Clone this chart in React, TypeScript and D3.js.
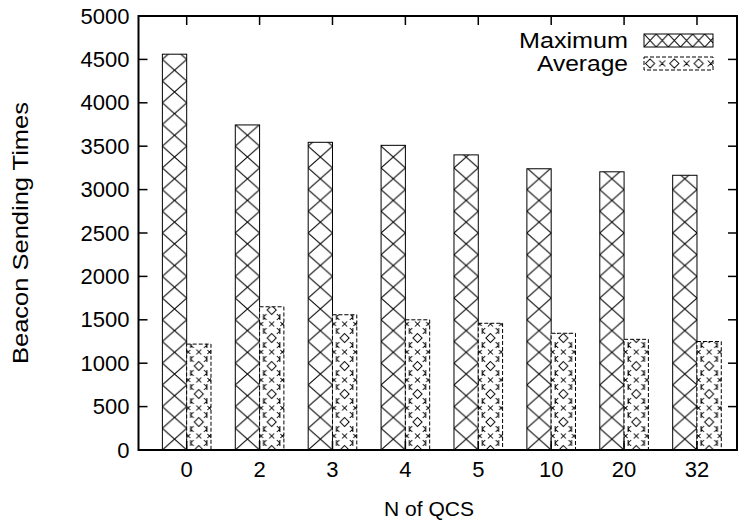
import React from "react";
import * as d3 from "d3";

// Categories and series values
const categories = ["0", "2", "3", "4", "5", "10", "20", "32"];
const maximumValues = [4560, 3745, 3545, 3510, 3400, 3240, 3205, 3165];
const averageValues = [1220, 1650, 1558, 1500, 1460, 1345, 1275, 1250];
const yTicks = [0, 500, 1000, 1500, 2000, 2500, 3000, 3500, 4000, 4500, 5000];
const seriesNames = ["Maximum", "Average"];

const WIDTH = 738;
const HEIGHT = 529;
const LEFT = 138.5;
const RIGHT = 737;
const TOP = 16;
const BOTTOM = 450;
const FONT = "'Liberation Sans', Arial, Helvetica, sans-serif";
const FONT_SIZE = 22;
const TICK = 9;

export default function App() {
  // cluster index -> pixel; each bar is one third of a cluster unit
  const x = d3.scaleLinear().domain([-0.661, 7.549]).range([LEFT, RIGHT]);
  const y = d3.scaleLinear().domain([0, 5000]).range([BOTTOM, TOP]);
  const barW = x(1 / 3) - x(0);
  const hatchH = 21.7;
  const avgH = 28;

  const maxPatternX = x(0) - barW;
  const avgPatternX = x(0);

  // pieces of the "Average" fill tile
  const diamond = (cx: number, cy: number, r: number) =>
    `M${cx},${cy - r}L${cx + r},${cy}L${cx},${cy + r}L${cx - r},${cy}Z`;
  const cross = (cx: number, cy: number, r: number) =>
    `M${cx - r},${cy - r}L${cx + r},${cy + r}M${cx + r},${cy - r}L${cx - r},${cy + r}`;
  const tee = (cx: number, cy: number, dir: number) =>
    `M${cx},${cy - 3}L${cx},${cy + 3}M${cx},${cy}L${cx + dir * 3},${cy - 3}M${cx},${cy}L${cx + dir * 3},${cy + 3}`;
  const avgTile = [
    diamond(barW / 2, 0, 4.5),
    diamond(barW / 2, avgH, 4.5),
    cross(barW / 2, avgH / 2, 2.5),
    tee(4, avgH / 4, 1),
    tee(barW - 4, avgH / 4, -1),
    tee(4, (3 * avgH) / 4, 1),
    tee(barW - 4, (3 * avgH) / 4, -1),
    cross(1.5, avgH / 2, 2),
    cross(barW - 1.5, avgH / 2, 2),
  ].join("");
  const maxTile = `M0,0L${barW},${hatchH}M${barW},0L0,${hatchH}`;

  const legendX0 = 644;
  const legendX1 = 713;
  const legendRows = [40.5, 63.5];
  const legendH = 13;
  const legendTextLen = [109, 91];

  return (
    <svg
      width={WIDTH}
      height={HEIGHT}
      style={{ position: "absolute", left: 0, top: 0, background: "#fff" }}
      fontFamily={FONT}
      fontSize={FONT_SIZE}
    >
      <defs>
        <pattern id="fill-max" patternUnits="userSpaceOnUse" x={maxPatternX} y={BOTTOM} width={barW} height={hatchH}>
          <rect width={barW} height={hatchH} fill="#fff" />
          <path d={maxTile} stroke="#000" strokeWidth={1} fill="none" />
        </pattern>
        <pattern id="fill-avg" patternUnits="userSpaceOnUse" x={avgPatternX} y={BOTTOM} width={barW} height={avgH}>
          <rect width={barW} height={avgH} fill="#fff" />
          <path d={avgTile} stroke="#000" strokeWidth={1} fill="none" />
        </pattern>
        <pattern id="legend-max" patternUnits="userSpaceOnUse" x={legendX0} y={legendRows[0] - legendH / 2} width={barW} height={legendH}>
          <rect width={barW} height={legendH} fill="#fff" />
          <path d={`M0,0L${barW / 2},${legendH}M${barW / 2},0L0,${legendH}M${barW / 2},0L${barW},${legendH}M${barW},0L${barW / 2},${legendH}`} stroke="#000" strokeWidth={1} fill="none" />
        </pattern>
        <pattern id="legend-avg" patternUnits="userSpaceOnUse" x={legendX0} y={legendRows[1] - legendH / 2} width={barW} height={legendH}>
          <rect width={barW} height={legendH} fill="#fff" />
          <path d={[diamond(barW / 4, legendH / 2, 4.5), cross((3 * barW) / 4, legendH / 2, 3)].join("")} stroke="#000" strokeWidth={1} fill="none" />
        </pattern>
      </defs>

      {/* bars */}
      {categories.map((c, i) => (
        <g key={c}>
          <rect
            x={x(i) - barW}
            y={y(maximumValues[i])}
            width={barW}
            height={y(0) - y(maximumValues[i])}
            fill="url(#fill-max)"
            stroke="#000"
            strokeWidth={1}
          />
          <rect
            x={x(i)}
            y={y(averageValues[i])}
            width={barW}
            height={y(0) - y(averageValues[i])}
            fill="url(#fill-avg)"
            stroke="#000"
            strokeWidth={1}
            strokeDasharray="4,2"
          />
        </g>
      ))}

      {/* y ticks, mirrored on the right */}
      {yTicks.map((t) => (
        <g key={t}>
          <line x1={LEFT} x2={LEFT + TICK} y1={y(t)} y2={y(t)} stroke="#000" strokeWidth={1.5} />
          <line x1={RIGHT} x2={RIGHT - TICK} y1={y(t)} y2={y(t)} stroke="#000" strokeWidth={1.5} />
          <text x={LEFT - 9} y={y(t)} textAnchor="end" dominantBaseline="central">
            {t}
          </text>
        </g>
      ))}

      {/* x ticks, mirrored on top */}
      {categories.map((c, i) => (
        <g key={c}>
          <line x1={x(i)} x2={x(i)} y1={BOTTOM} y2={BOTTOM - TICK} stroke="#000" strokeWidth={1.5} />
          <line x1={x(i)} x2={x(i)} y1={TOP} y2={TOP + TICK} stroke="#000" strokeWidth={1.5} />
          <text x={x(i)} y={469} textAnchor="middle" dominantBaseline="central">
            {c}
          </text>
        </g>
      ))}

      {/* border */}
      <rect x={LEFT} y={TOP} width={RIGHT - LEFT} height={BOTTOM - TOP} fill="none" stroke="#000" strokeWidth={2} />

      {/* axis titles */}
      <text x={429} y={508} textAnchor="middle" dominantBaseline="central" fontSize={21}>
        N of QCS
      </text>
      <text
        transform={`translate(20,${(TOP + BOTTOM) / 2}) rotate(-90)`}
        textAnchor="middle"
        dominantBaseline="central"
        textLength={262}
        lengthAdjust="spacingAndGlyphs"
      >
        Beacon Sending Times
      </text>

      {/* legend */}
      {seriesNames.map((name, k) => (
        <g key={name}>
          <text
            x={628 - legendTextLen[k]}
            y={legendRows[k]}
            dominantBaseline="central"
            textLength={legendTextLen[k]}
            lengthAdjust="spacingAndGlyphs"
          >
            {name}
          </text>
          <rect
            x={legendX0}
            y={legendRows[k] - legendH / 2}
            width={legendX1 - legendX0}
            height={legendH}
            fill={k === 0 ? "url(#legend-max)" : "url(#legend-avg)"}
            stroke="#000"
            strokeWidth={1}
            strokeDasharray={k === 0 ? undefined : "4,2"}
          />
        </g>
      ))}
    </svg>
  );
}
